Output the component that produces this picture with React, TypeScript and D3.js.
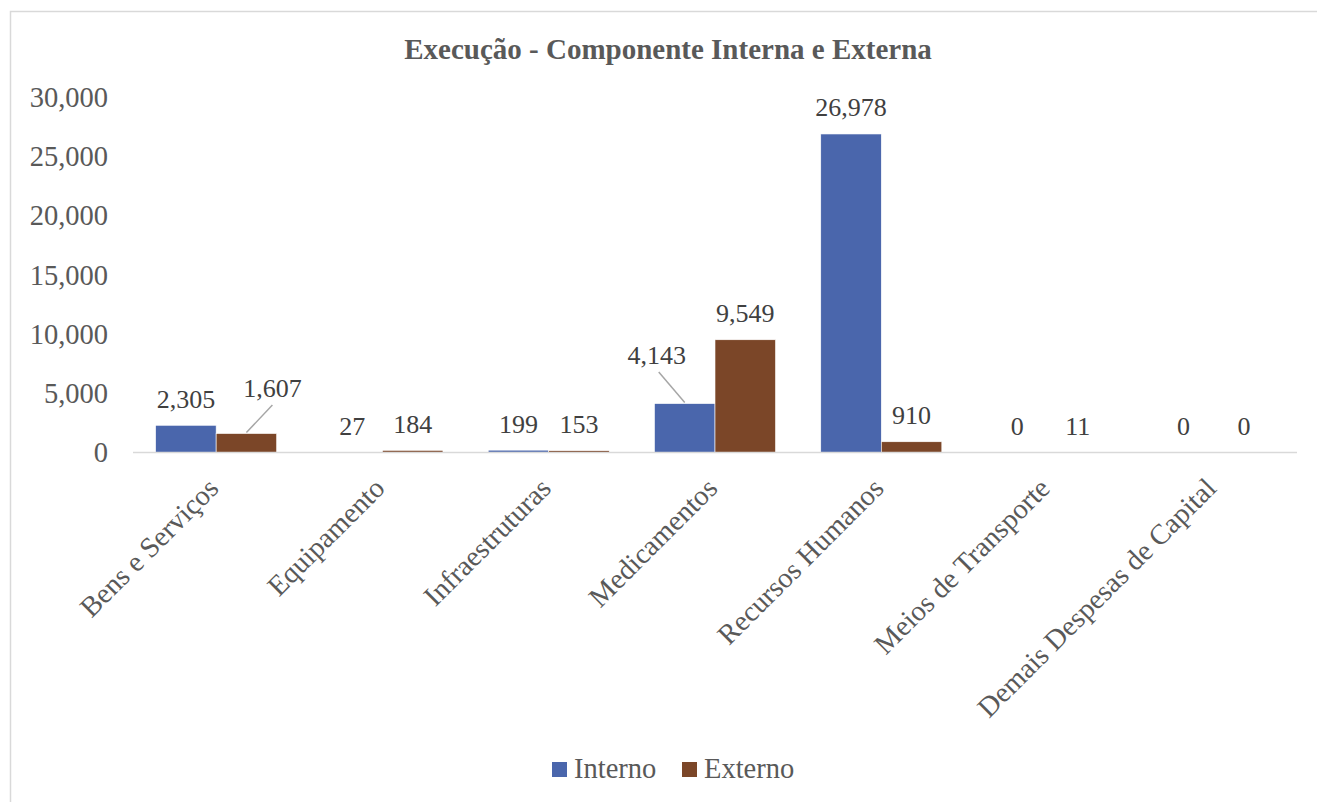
import React from "react";
import * as d3 from "d3";

const categories = [
  "Bens e Serviços",
  "Equipamento",
  "Infraestruturas",
  "Medicamentos",
  "Recursos Humanos",
  "Meios de Transporte",
  "Demais Despesas de Capital",
];
const seriesNames = ["Interno", "Externo"];
const interno = [2305, 27, 199, 4143, 26978, 0, 0];
const externo = [1607, 184, 153, 9549, 910, 11, 0];
const yTicks = [0, 5000, 10000, 15000, 20000, 25000, 30000];
const title = "Execução - Componente Interna e Externa";

// labels moved off their bar with a leader line: [category, series, dx, dy]
const leaderLabels: [string, string, number, number][] = [
  ["Bens e Serviços", "Externo", 26, -19],
  ["Medicamentos", "Interno", -28, -22],
];

const W = 1317;
const H = 802;
const FONT = "Liberation Serif, DejaVu Serif, serif";
const colors: Record<string, string> = { Interno: "#4A66AC", Externo: "#7B4628" };
const TXT = "#595959";
const LBL = "#404040";

export default function App() {
  const x = d3
    .scaleBand<string>()
    .domain(categories)
    .range([133, 1297])
    .paddingInner(0.272)
    .paddingOuter(0.136);
  const x1 = d3.scaleBand<string>().domain(seriesNames).range([0, x.bandwidth()]);
  const y = d3.scaleLinear().domain([0, 30000]).range([452.5, 98.3]);
  const fmt = d3.format(",");

  const data = categories.map((c, i) => ({
    cat: c,
    values: [
      { s: "Interno", v: interno[i] },
      { s: "Externo", v: externo[i] },
    ],
  }));

  const ts = { fontFamily: FONT };

  return (
    <svg
      width={W}
      height={H}
      style={{ position: "absolute", left: 0, top: 0, background: "#fff", fontFamily: FONT }}
    >
      <rect x={10.5} y={11.5} width={1320} height={820} fill="#fff" stroke="#d9d9d9" strokeWidth={1.5} />
      <text x={668} y={59} textAnchor="middle" fontSize={29} fontWeight="bold" fill={TXT} style={ts}>
        {title}
      </text>
      {yTicks.map((t) => (
        <text key={t} x={108} y={y(t)} dy="0.32em" textAnchor="end" fontSize={28.5} fill={TXT} style={ts}>
          {fmt(t)}
        </text>
      ))}
      {data.map((d) =>
        d.values.map((e) => {
          const bx = (x(d.cat) ?? 0) + (x1(e.s) ?? 0);
          const top = y(e.v);
          return (
            <rect
              key={d.cat + e.s}
              x={bx}
              y={top}
              width={x1.bandwidth()}
              height={Math.max(0, y(0) - top)}
              fill={colors[e.s]}
              stroke="#fff"
              strokeWidth={0.6}
            />
          );
        })
      )}
      <line x1={133} x2={1297} y1={y(0)} y2={y(0)} stroke="#d9d9d9" strokeWidth={1.5} />
      {data.map((d) =>
        d.values.map((e) => {
          const cx = (x(d.cat) ?? 0) + (x1(e.s) ?? 0) + x1.bandwidth() / 2;
          const top = y(e.v);
          const ll = leaderLabels.find((l) => l[0] === d.cat && l[1] === e.s);
          const dx = ll ? ll[2] : 0;
          const dy = ll ? ll[3] : 0;
          const lx = cx + dx;
          const ly = top - 17.5 + dy;
          return (
            <g key={"l" + d.cat + e.s}>
              {ll && (
                <line
                  x1={cx}
                  y1={top - 1}
                  x2={lx + (dx > 0 ? 0 : 2)}
                  y2={ly + 8}
                  stroke="#a6a6a6"
                  strokeWidth={1.5}
                />
              )}
              <text x={lx} y={ly} textAnchor="middle" fontSize={26} fill={LBL} style={ts}>
                {fmt(e.v)}
              </text>
            </g>
          );
        })
      )}
      {categories.map((c) => {
        const cx = (x(c) ?? 0) + x.bandwidth() / 2;
        return (
          <text
            key={c}
            transform={`translate(${cx + 4},${490}) rotate(-45)`}
            textAnchor="end"
            fontSize={28.5}
            fill={TXT}
            style={ts}
          >
            {c}
          </text>
        );
      })}
      {seriesNames.map((s, i) => {
        const lx = i === 0 ? 552 : 682;
        return (
          <g key={s}>
            <rect x={lx} y={762} width={15} height={15} fill={colors[s]} />
            <text x={lx + 22} y={778} fontSize={28.5} fill={TXT} style={ts}>
              {s}
            </text>
          </g>
        );
      })}
    </svg>
  );
}
